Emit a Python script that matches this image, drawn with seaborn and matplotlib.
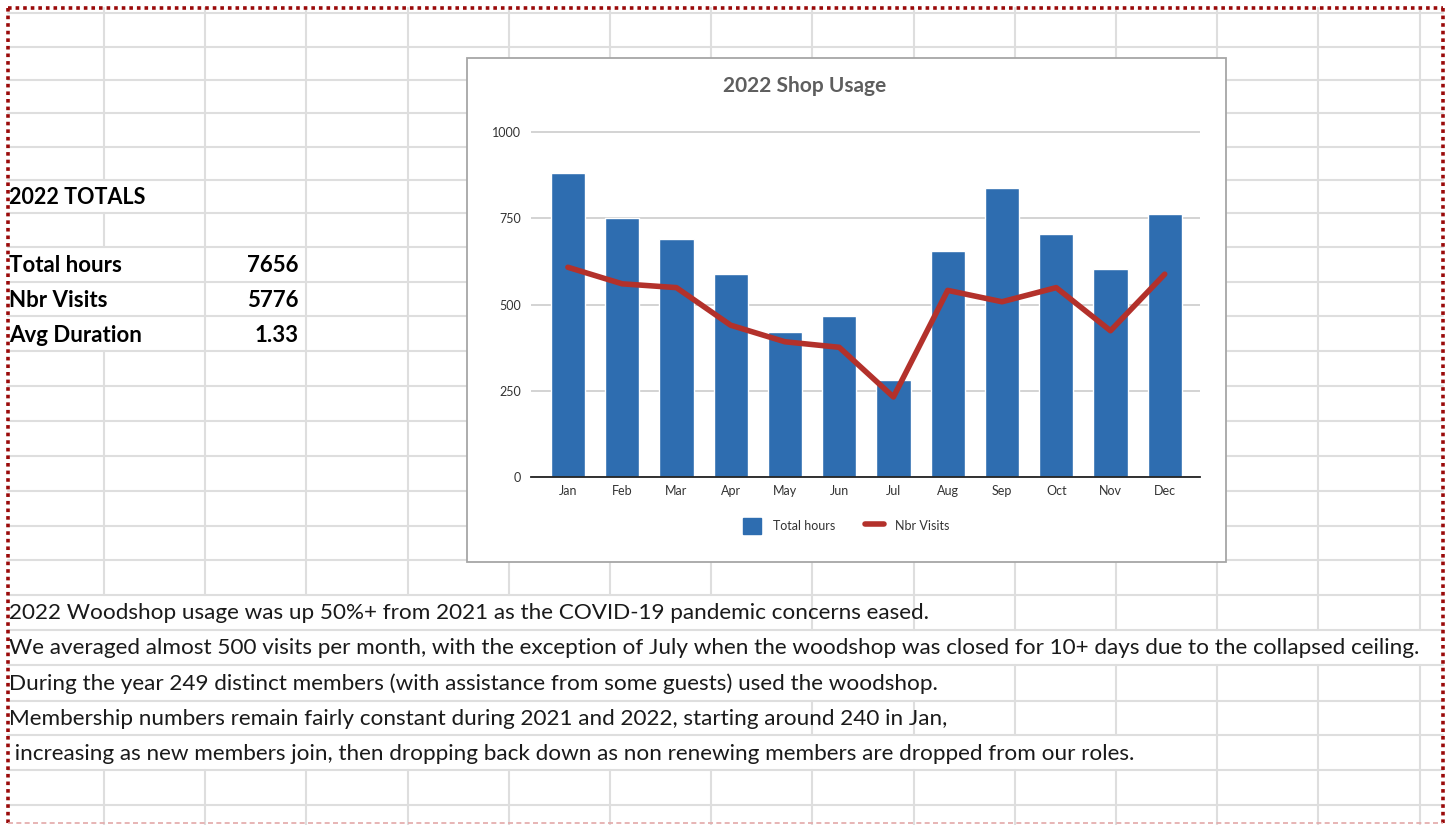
"""
plot.py — 2022 shop usage sheet: totals, combo bar/line chart and notes.
"""

import matplotlib
matplotlib.use("Agg")

import matplotlib.pyplot as plt
import numpy as np
import seaborn as sns
from matplotlib.lines import Line2D
from matplotlib.patches import Patch, Rectangle

# ── Data ─────────────────────────────────────────────────────────────────────
months = ["Jan", "Feb", "Mar", "Apr", "May", "Jun",
          "Jul", "Aug", "Sep", "Oct", "Nov", "Dec"]
total_hours = [882, 752, 690, 588, 420, 468, 280, 655, 838, 703, 602, 761]
nbr_visits = [608, 560, 549, 440, 392, 376, 232, 541, 508, 549, 424, 588]
y_ticks = [0, 250, 500, 750, 1000]

totals_labels = ["Total hours", "Nbr Visits", "Avg Duration"]
totals_values = ["7656", "5776", "1.33"]

notes = [
    "2022 Woodshop usage was up 50%+ from 2021 as the COVID-19 pandemic concerns eased.",
    "We averaged almost 500 visits per month, with the exception of July when the "
    "woodshop was closed for 10+ days due to the collapsed ceiling.",
    "During the year 249 distinct members (with assistance from some guests) used the woodshop.",
    "Membership numbers remain fairly constant during 2021 and 2022, starting around 240 in Jan,",
    " increasing as new members join, then dropping back down as non renewing members "
    "are dropped from our roles.",
]

# ── Style ────────────────────────────────────────────────────────────────────
sns.set_theme(style="white")
plt.rcParams["font.family"] = ["Lato", "DejaVu Sans"]

BAR = "#2E6DB0"
LINE = "#B3312B"
GRID = "#DEDEDE"
BORDER = "#9A0A0A"

W, H = 1449, 825
fig = plt.figure(figsize=(W / 100, H / 100), dpi=100)

# background sheet in pixel coordinates
bg = fig.add_axes([0, 0, 1, 1], zorder=0)
bg.set_xlim(0, W)
bg.set_ylim(H, 0)
bg.axis("off")

col_x = [104 + 101.2 * k for k in range(14)]
row_y = [13, 47, 80, 113, 147, 180, 213, 247, 282, 316, 351, 386, 421,
         456, 491, 526, 560, 595, 630, 665, 701, 735, 770, 805]

for y in row_y:
    bg.plot([8, 1443], [y, y], color=GRID, lw=1.5, zorder=1)

# cells where text spills over: (row top, row bottom, last covered column x)
spill = [(180, 213, 104), (247, 351, 104),
         (595, 630, 812), (630, 665, 1420), (665, 701, 914),
         (701, 735, 812), (735, 770, 1117)]
edges = [8] + row_y + [825]
for x in col_x:
    for y0, y1 in zip(edges[:-1], edges[1:]):
        if any(a <= y0 and y1 <= b and x <= cx for a, b, cx in spill):
            continue
        bg.plot([x, x], [y0, y1], color=GRID, lw=1.5, zorder=1)

# dotted selection border
dot = dict(color=BORDER, lw=2.6, linestyle=(0, (1, 1.1)), zorder=3)
bg.plot([8, 1443], [8, 8], **dot)
bg.plot([8, 8], [8, 825], **dot)
bg.plot([1443, 1443], [8, 825], **dot)
bg.plot([8, 1443], [823, 823], color="#E3A8A8", lw=1.2,
        linestyle=(0, (3, 2)), zorder=3)

# totals block
bg.text(9, 198, "2022 TOTALS", fontsize=15.5, fontweight="bold",
        va="center", ha="left", color="black")
for i, (lab, val) in enumerate(zip(totals_labels, totals_values)):
    y = 266 + 34.5 * i
    bg.text(9, y, lab, fontsize=16, fontweight="bold",
            va="center", ha="left", color="black")
    bg.text(299, y, val, fontsize=16, fontweight="bold",
            va="center", ha="right", color="black")

# notes below the chart
for i, line in enumerate(notes):
    bg.text(9, 613 + 35.2 * i, line, fontsize=16.2, va="center",
            ha="left", color="#1A1A1A")

# chart frame
bg.add_patch(Rectangle((467, 58), 759, 504, facecolor="white",
                       edgecolor="#A6A6A6", lw=1.3, zorder=2))
bg.text(805, 86, "2022 Shop Usage", fontsize=15, fontweight="bold",
        ha="center", va="center", color="#5E5E5E", zorder=4)

# ── Combo chart ──────────────────────────────────────────────────────────────
ax = fig.add_axes([531 / W, 1 - 477 / H, 669 / W, 346 / H], zorder=5)
ax.patch.set_visible(False)

sns.barplot(x=months, y=total_hours, color=BAR, width=0.63,
            saturation=1, ax=ax, zorder=2)
sns.lineplot(x=np.arange(len(months)), y=nbr_visits, color=LINE,
             lw=4, ax=ax, zorder=3)

ax.set_xlim(-0.68, 11.65)
ax.set_ylim(0, 1003)
ax.set_yticks(y_ticks)
ax.yaxis.grid(True, color="#C8C8C8", lw=1.1, zorder=0)
ax.set_axisbelow(True)
for side in ["top", "right", "left"]:
    ax.spines[side].set_visible(False)
ax.spines["bottom"].set_color("#222222")
ax.spines["bottom"].set_linewidth(1.3)
ax.tick_params(axis="both", length=0, labelsize=9, colors="#333333")
ax.tick_params(axis="y", pad=7)
ax.tick_params(axis="x", pad=6)
ax.set_xlabel("")
ax.set_ylabel("")

handles = [Patch(facecolor=BAR, edgecolor=BAR, label="Total hours"),
           Line2D([0], [0], color=LINE, lw=4, label="Nbr Visits")]
fig.legend(handles=handles, loc="center", ncol=2, frameon=False,
           bbox_to_anchor=(846 / W, 1 - 526 / H), fontsize=9,
           handlelength=1.5, handleheight=1.5, handletextpad=0.9,
           columnspacing=2.4, labelcolor="#333333")

fig.savefig("out.png", dpi=100)
